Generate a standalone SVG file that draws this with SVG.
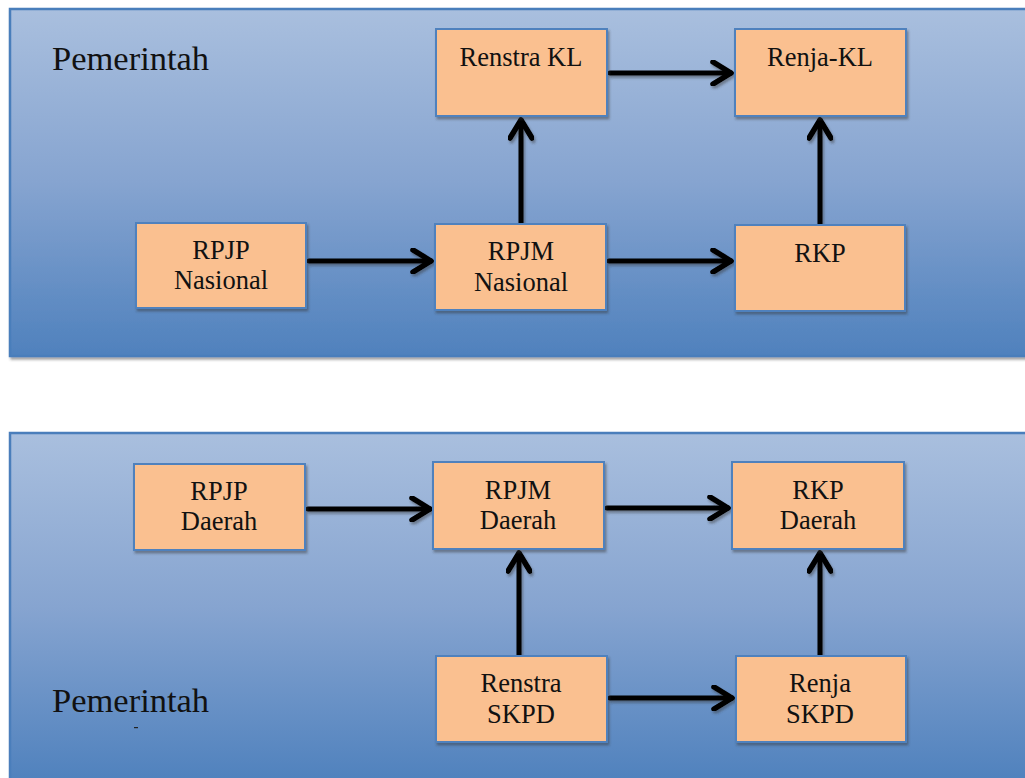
<svg xmlns="http://www.w3.org/2000/svg" width="1025" height="778" viewBox="0 0 1025 778">
<style>
.panel{stroke:#4a7ebb;stroke-width:2.5}
.box{fill:#fac090;stroke:#4f81bd;stroke-width:2}
.t{font-family:"Liberation Serif","Times New Roman",serif;font-size:26.5px;fill:#111;text-anchor:middle}
.big{font-family:"Liberation Serif","Times New Roman",serif;font-size:34.5px;fill:#111}
.c{fill:none;stroke:#000;stroke-width:5;stroke-linecap:round;stroke-linejoin:round}
</style>
<defs>
<linearGradient id="g" x1="0" y1="0" x2="0" y2="1">
<stop offset="0" stop-color="#a9bfde"/>
<stop offset="0.5" stop-color="#86a4d0"/>
<stop offset="1" stop-color="#4f81bd"/>
</linearGradient>
<filter id="sh" x="-10%" y="-10%" width="130%" height="130%">
<feDropShadow dx="1.5" dy="2.5" stdDeviation="1" flood-color="#333" flood-opacity="0.45"/>
</filter>
<marker id="ah" viewBox="-22 -13 26 26" markerWidth="26" markerHeight="26" refX="0" refY="0" orient="auto" markerUnits="userSpaceOnUse">
<path d="M-18,-11 L0,0 L-18,11" fill="none" stroke="#000" stroke-width="5.5" stroke-linecap="round" stroke-linejoin="round"/>
</marker>
</defs>
<rect x="0" y="0" width="1025" height="778" fill="#fff"/>
<g id="panel-top">
<rect x="10" y="9" width="1020" height="347" fill="url(#g)" class="panel" filter="url(#sh)"/>
<text class="big" x="52" y="70">Pemerintah</text>
</g>
<g id="panel-bottom">
<rect x="10" y="433" width="1020" height="350" fill="url(#g)" class="panel"/>
<text class="big" x="52" y="712">Pemerintah</text>
<rect x="134" y="727" width="4" height="1.2" fill="#222"/>
</g>
<g id="connectors" filter="url(#sh)">
<path class="c" d="M610,73 L731,73" marker-end="url(#ah)"/>
<path class="c" d="M309,261 L431,261" marker-end="url(#ah)"/>
<path class="c" d="M609,261 L731,261" marker-end="url(#ah)"/>
<path class="c" d="M521,223 L521,120" marker-end="url(#ah)"/>
<path class="c" d="M820,224 L820,120" marker-end="url(#ah)"/>
<path class="c" d="M308,509 L430,509" marker-end="url(#ah)"/>
<path class="c" d="M607,508 L728,508" marker-end="url(#ah)"/>
<path class="c" d="M519,655 L519,553" marker-end="url(#ah)"/>
<path class="c" d="M820,655 L820,553" marker-end="url(#ah)"/>
<path class="c" d="M610,698 L732,698" marker-end="url(#ah)"/>
</g>
<g id="renstra-kl"><rect class="box" x="436" y="29" width="171" height="87" filter="url(#sh)"/><text class="t" x="521" y="66">Renstra KL</text></g>
<g id="renja-kl"><rect class="box" x="735" y="29" width="171" height="87" filter="url(#sh)"/><text class="t" x="820" y="66">Renja-KL</text></g>
<g id="rpjp-nasional"><rect class="box" x="136" y="223" width="170" height="85" filter="url(#sh)"/><text class="t" x="221" y="259">RPJP</text><text class="t" x="221" y="289">Nasional</text></g>
<g id="rpjm-nasional"><rect class="box" x="435" y="224" width="171" height="86" filter="url(#sh)"/><text class="t" x="521" y="260">RPJM</text><text class="t" x="521" y="291">Nasional</text></g>
<g id="rkp"><rect class="box" x="735" y="225" width="170" height="86" filter="url(#sh)"/><text class="t" x="820" y="262">RKP</text></g>
<g id="rpjp-daerah"><rect class="box" x="134" y="464" width="171" height="86" filter="url(#sh)"/><text class="t" x="219" y="500">RPJP</text><text class="t" x="219" y="530">Daerah</text></g>
<g id="rpjm-daerah"><rect class="box" x="433" y="462" width="171" height="87" filter="url(#sh)"/><text class="t" x="518" y="499">RPJM</text><text class="t" x="518" y="529">Daerah</text></g>
<g id="rkp-daerah"><rect class="box" x="732" y="462" width="172" height="87" filter="url(#sh)"/><text class="t" x="818" y="499">RKP</text><text class="t" x="818" y="529">Daerah</text></g>
<g id="renstra-skpd"><rect class="box" x="436" y="656" width="171" height="86" filter="url(#sh)"/><text class="t" x="521" y="692">Renstra</text><text class="t" x="521" y="723">SKPD</text></g>
<g id="renja-skpd"><rect class="box" x="736" y="656" width="170" height="86" filter="url(#sh)"/><text class="t" x="820" y="692">Renja</text><text class="t" x="820" y="723">SKPD</text></g>
</svg>
